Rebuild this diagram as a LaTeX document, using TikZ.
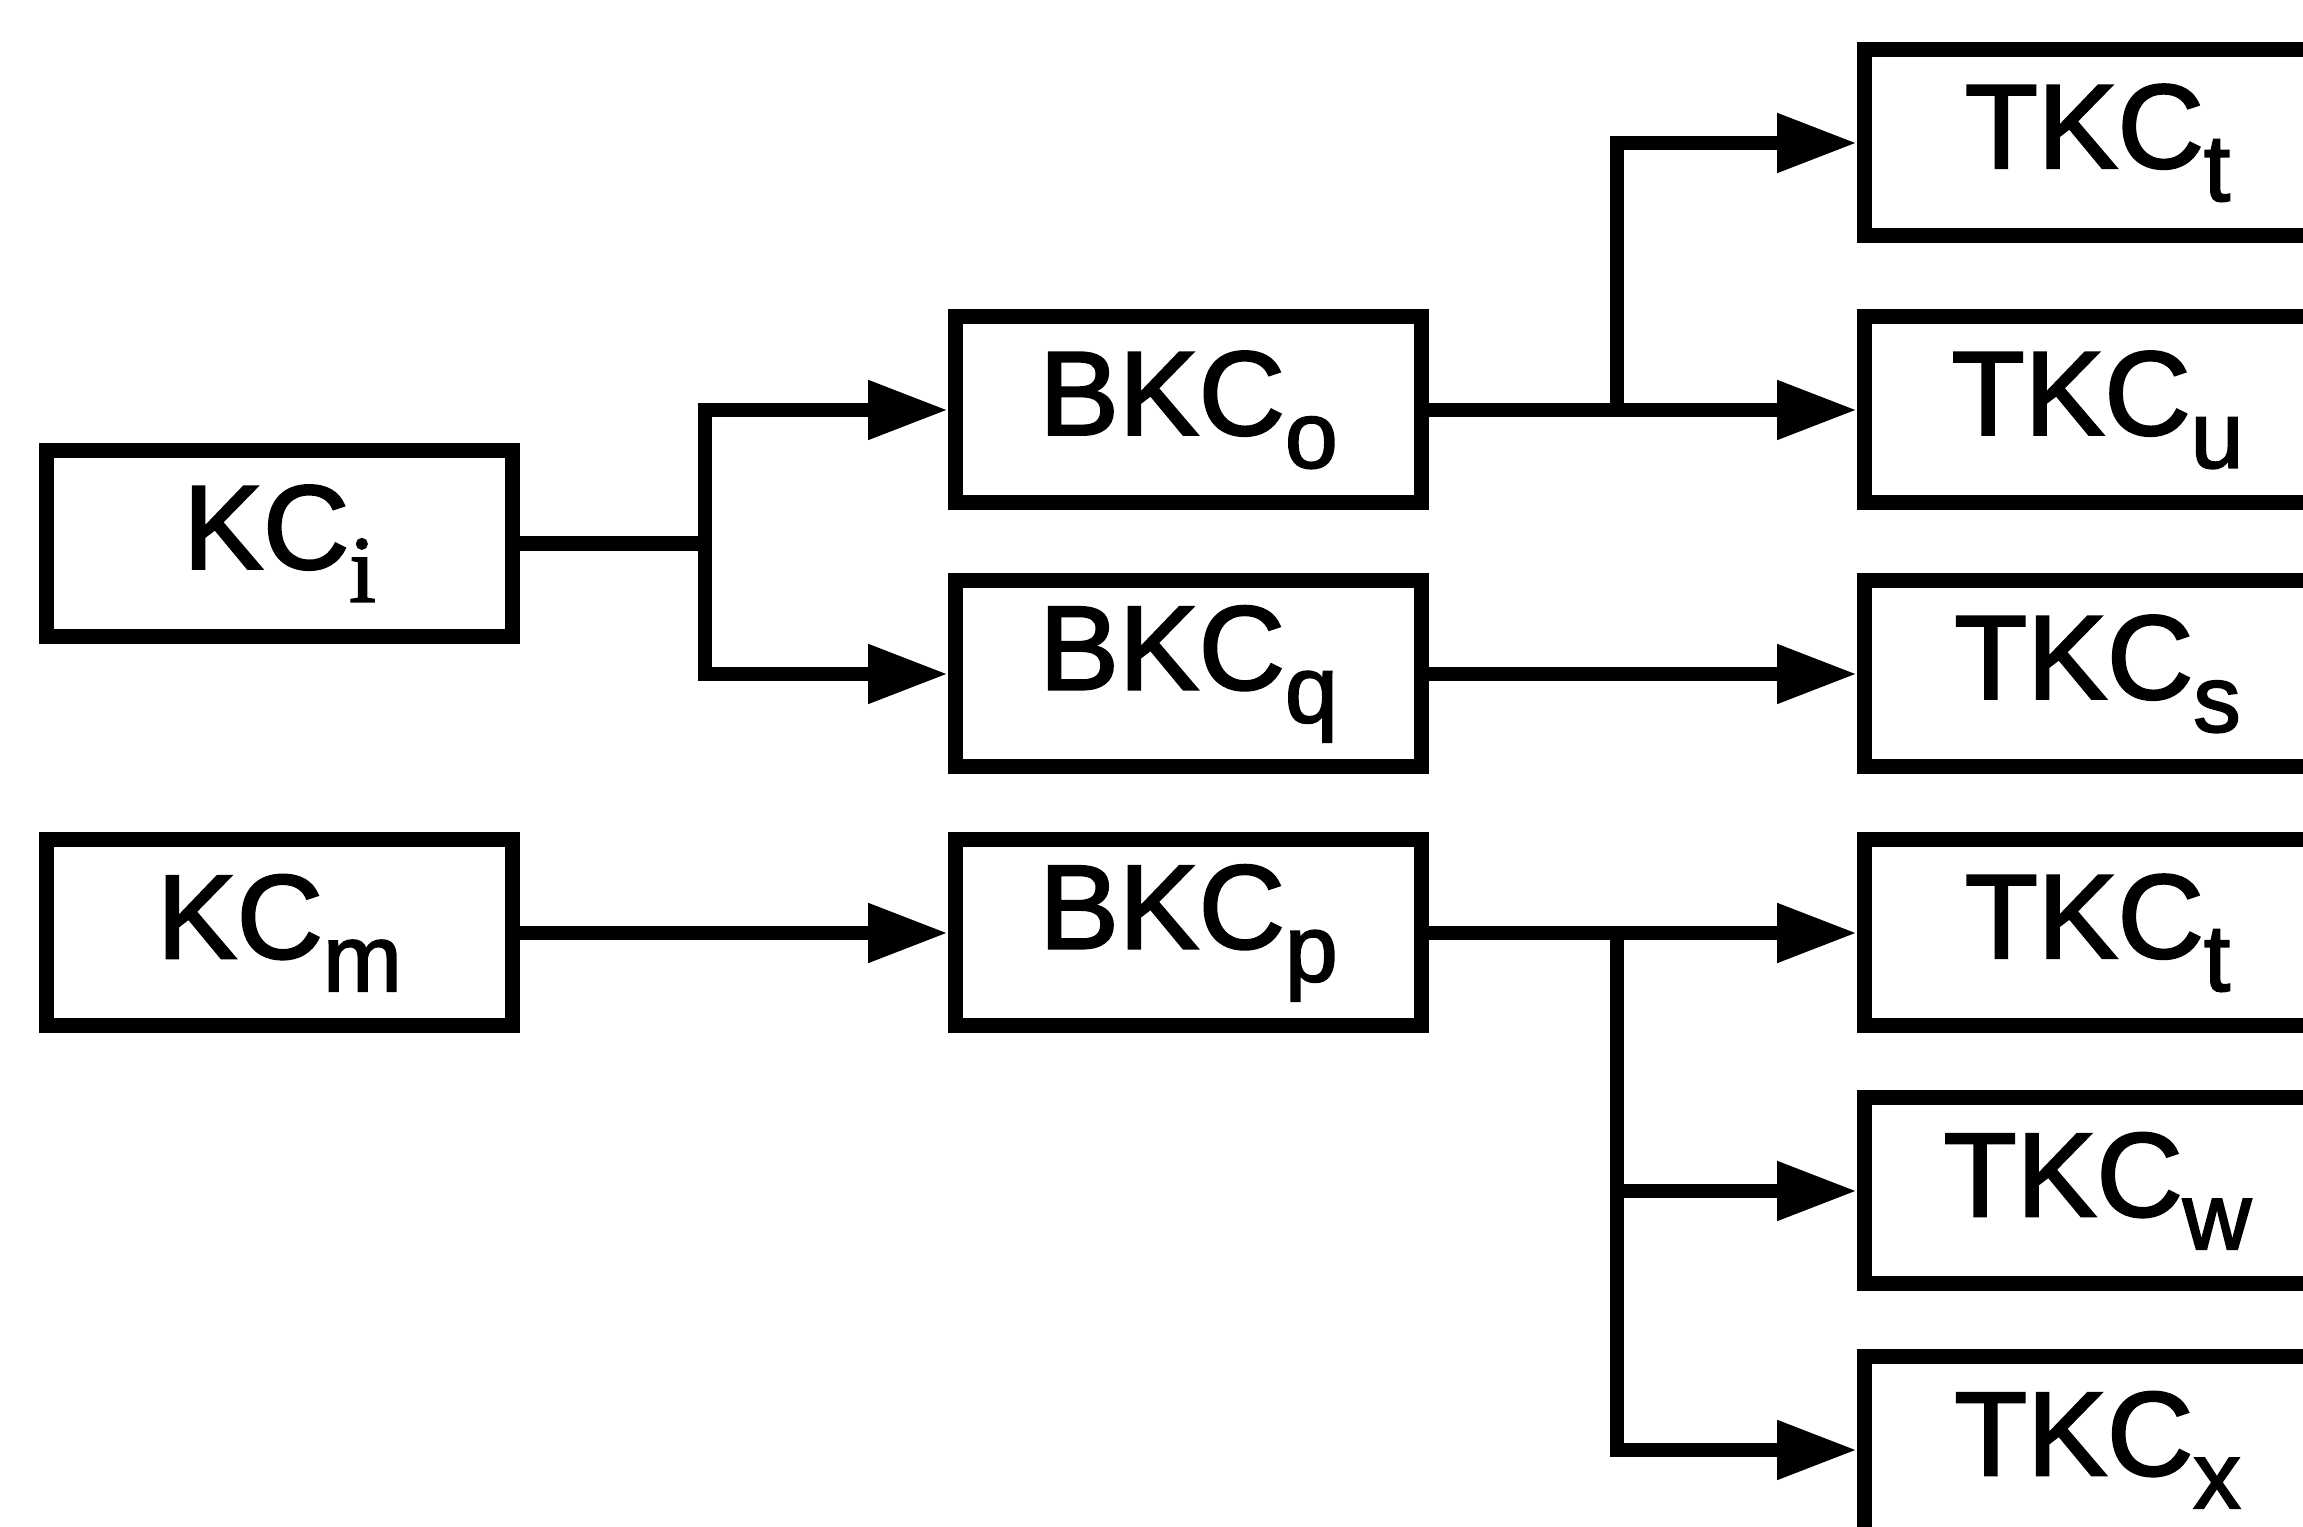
\documentclass[tikz,border=0pt]{standalone}
\usepackage{fontspec}
\setmainfont{Liberation Sans}[FakeBold=2]
\newfontfamily\serifsub{Liberation Serif}[FakeBold=2]
\usetikzlibrary{arrows.meta}
\newcommand\lowsub[1]{\raisebox{-0.33cm}{\fontsize{27}{30}\selectfont #1}}

\begin{document}
\begin{tikzpicture}[
  box/.style={draw,line width=0.15cm,minimum width=4.66cm,minimum height=1.86cm,
    inner sep=0pt,font=\fontsize{34}{40}\selectfont},
  link/.style={line width=0.145cm},
  feed/.style={link,-{Triangle[length=0.8cm,width=0.56cm]}}]
\useasboundingbox (0,0) rectangle (23.03,15.27);
\clip (0,0) rectangle (23.03,15.27);
\node[box] (kci) at (2.795,9.835) {KC\lowsub{\serifsub i}};
\node[box] (kcm) at (2.795,5.94) {KC\lowsub{m}};
\node[box] (bkco) at (11.885,11.17) {BKC\lowsub{o}};
\node[box] (bkcq) at (11.885,8.53) {BKC\lowsub{q}};
\node[box] (bkcp) at (11.885,5.94) {BKC\lowsub{p}};
\node[box] (tkct) at (20.975,13.84) {TKC\lowsub{t}};
\node[box] (tkcu) at (20.975,11.17) {TKC\lowsub{u}};
\node[box] (tkcs) at (20.975,8.53) {TKC\lowsub{s}};
\node[box] (tkctt) at (20.975,5.94) {TKC\lowsub{t}};
\node[box] (tkcw) at (20.975,3.36) {TKC\lowsub{w}};
\node[box] (tkcx) at (20.975,0.77) {TKC\lowsub{x}};
\coordinate (kcfork) at (7.05,9.835);
\coordinate (ofork) at (16.17,11.17);
\coordinate (pfork) at (16.17,5.94);
\draw[link] (kci.east) -- (kcfork);
\draw[feed] (kcfork) |- (bkco.west);
\draw[feed] (kcfork) |- (bkcq.west);
\draw[feed] (kcm.east) -- (bkcp.west);
\draw[feed] (bkco.east) -- (tkcu.west);
\draw[feed] (ofork) |- (tkct.west);
\draw[feed] (bkcq.east) -- (tkcs.west);
\draw[feed] (bkcp.east) -- (tkctt.west);
\draw[feed] (pfork) |- (tkcw.west);
\draw[feed] (pfork) |- (tkcx.west);
\end{tikzpicture}
\end{document}
